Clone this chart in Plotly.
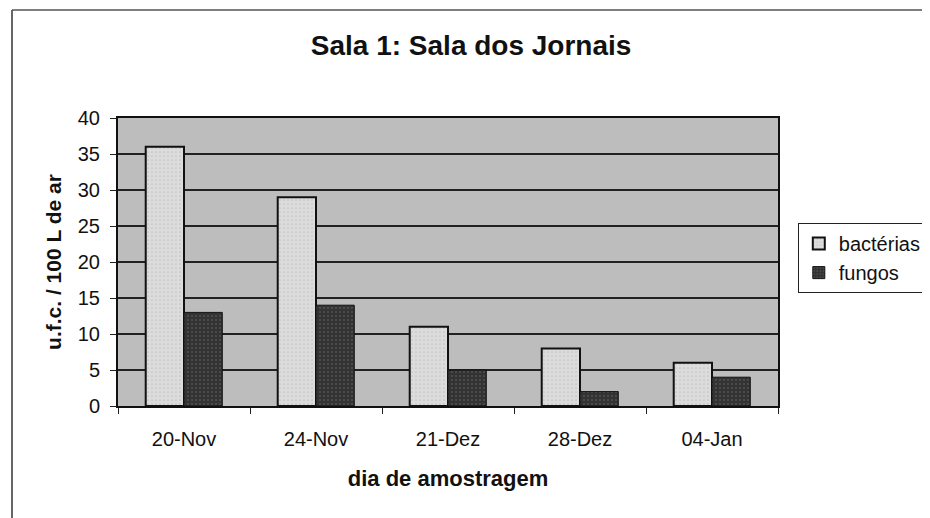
import plotly.graph_objects as go

categories = ["20-Nov", "24-Nov", "21-Dez", "28-Dez", "04-Jan"]
bacterias = [36, 29, 11, 8, 6]
fungos = [13, 14, 5, 2, 4]
y_ticks = [0, 5, 10, 15, 20, 25, 30, 35, 40]

FONT = "Liberation Sans, Arial, sans-serif"
INK = "#111111"

fig = go.Figure()
fig.add_trace(go.Bar(
    x=categories, y=bacterias, name="bactérias",
    marker=dict(color="#d9d9d9", line=dict(color=INK, width=2),
                pattern=dict(shape=".", fgcolor="#a8a8a8", bgcolor="#dcdcdc", size=4, solidity=0.15)),
))
fig.add_trace(go.Bar(
    x=categories, y=fungos, name="fungos",
    marker=dict(color="#3a3a3a", line=dict(color=INK, width=1),
                pattern=dict(shape=".", fgcolor="#707070", bgcolor="#333333", size=4, solidity=0.2)),
))

# page body has an 8px margin, so the figure is drawn 8px smaller/offset
fig.update_layout(
    width=922, height=510,
    paper_bgcolor="white",
    plot_bgcolor="#bdbdbd",
    margin=dict(l=110, r=152, t=110, b=112, autoexpand=False),
    barmode="group",
    bargap=0.42,
    bargroupgap=0,
    font=dict(family=FONT, color=INK),
    title=dict(text="<b>Sala 1: Sala dos Jornais</b>", x=0.535, xref="paper", xanchor="center",
               y=0.928, yanchor="middle",
               font=dict(size=28, family=FONT, color=INK)),
    legend=dict(x=1.03, y=0.635, xanchor="left", yanchor="top",
                bgcolor="white", bordercolor="#222222", borderwidth=1,
                font=dict(size=20, family=FONT, color=INK),
                itemwidth=30, tracegroupgap=4),
    showlegend=True,
)

fig.update_xaxes(
    type="category",
    tickson="boundaries",
    ticks="outside", ticklen=6, tickcolor="#222222", tickwidth=1,
    showline=True, linecolor=INK, linewidth=2, mirror=True,
    showgrid=False,
    tickfont=dict(size=20, family=FONT, color=INK),
    ticklabelstandoff=14,
    title=dict(text="<b>dia de amostragem</b>", font=dict(size=22, family=FONT, color=INK), standoff=22),
)
fig.update_yaxes(
    range=[0, 40], tickvals=y_ticks,
    ticks="outside", ticklen=6, tickcolor="#222222", tickwidth=1,
    showline=True, linecolor=INK, linewidth=2, mirror=True,
    showgrid=True, gridcolor="#222222", gridwidth=1.8,
    zeroline=False,
    tickfont=dict(size=20, family=FONT, color=INK),
    ticklabelstandoff=6,
    title=dict(text="<b>u.f.c. / 100 L de ar</b>", font=dict(size=21, family=FONT, color=INK), standoff=10),
)

# outer chart frame (left and top edges visible)
fig.add_shape(type="line", xref="paper", yref="paper", x0=-0.1606, x1=-0.1606, y0=1.375, y1=-0.45,
              line=dict(color="#333333", width=1.5))
fig.add_shape(type="line", xref="paper", yref="paper", x0=-0.1606, x1=1.25, y0=1.375, y1=1.375,
              line=dict(color="#555555", width=1.5))

fig.write_html("out.html")
